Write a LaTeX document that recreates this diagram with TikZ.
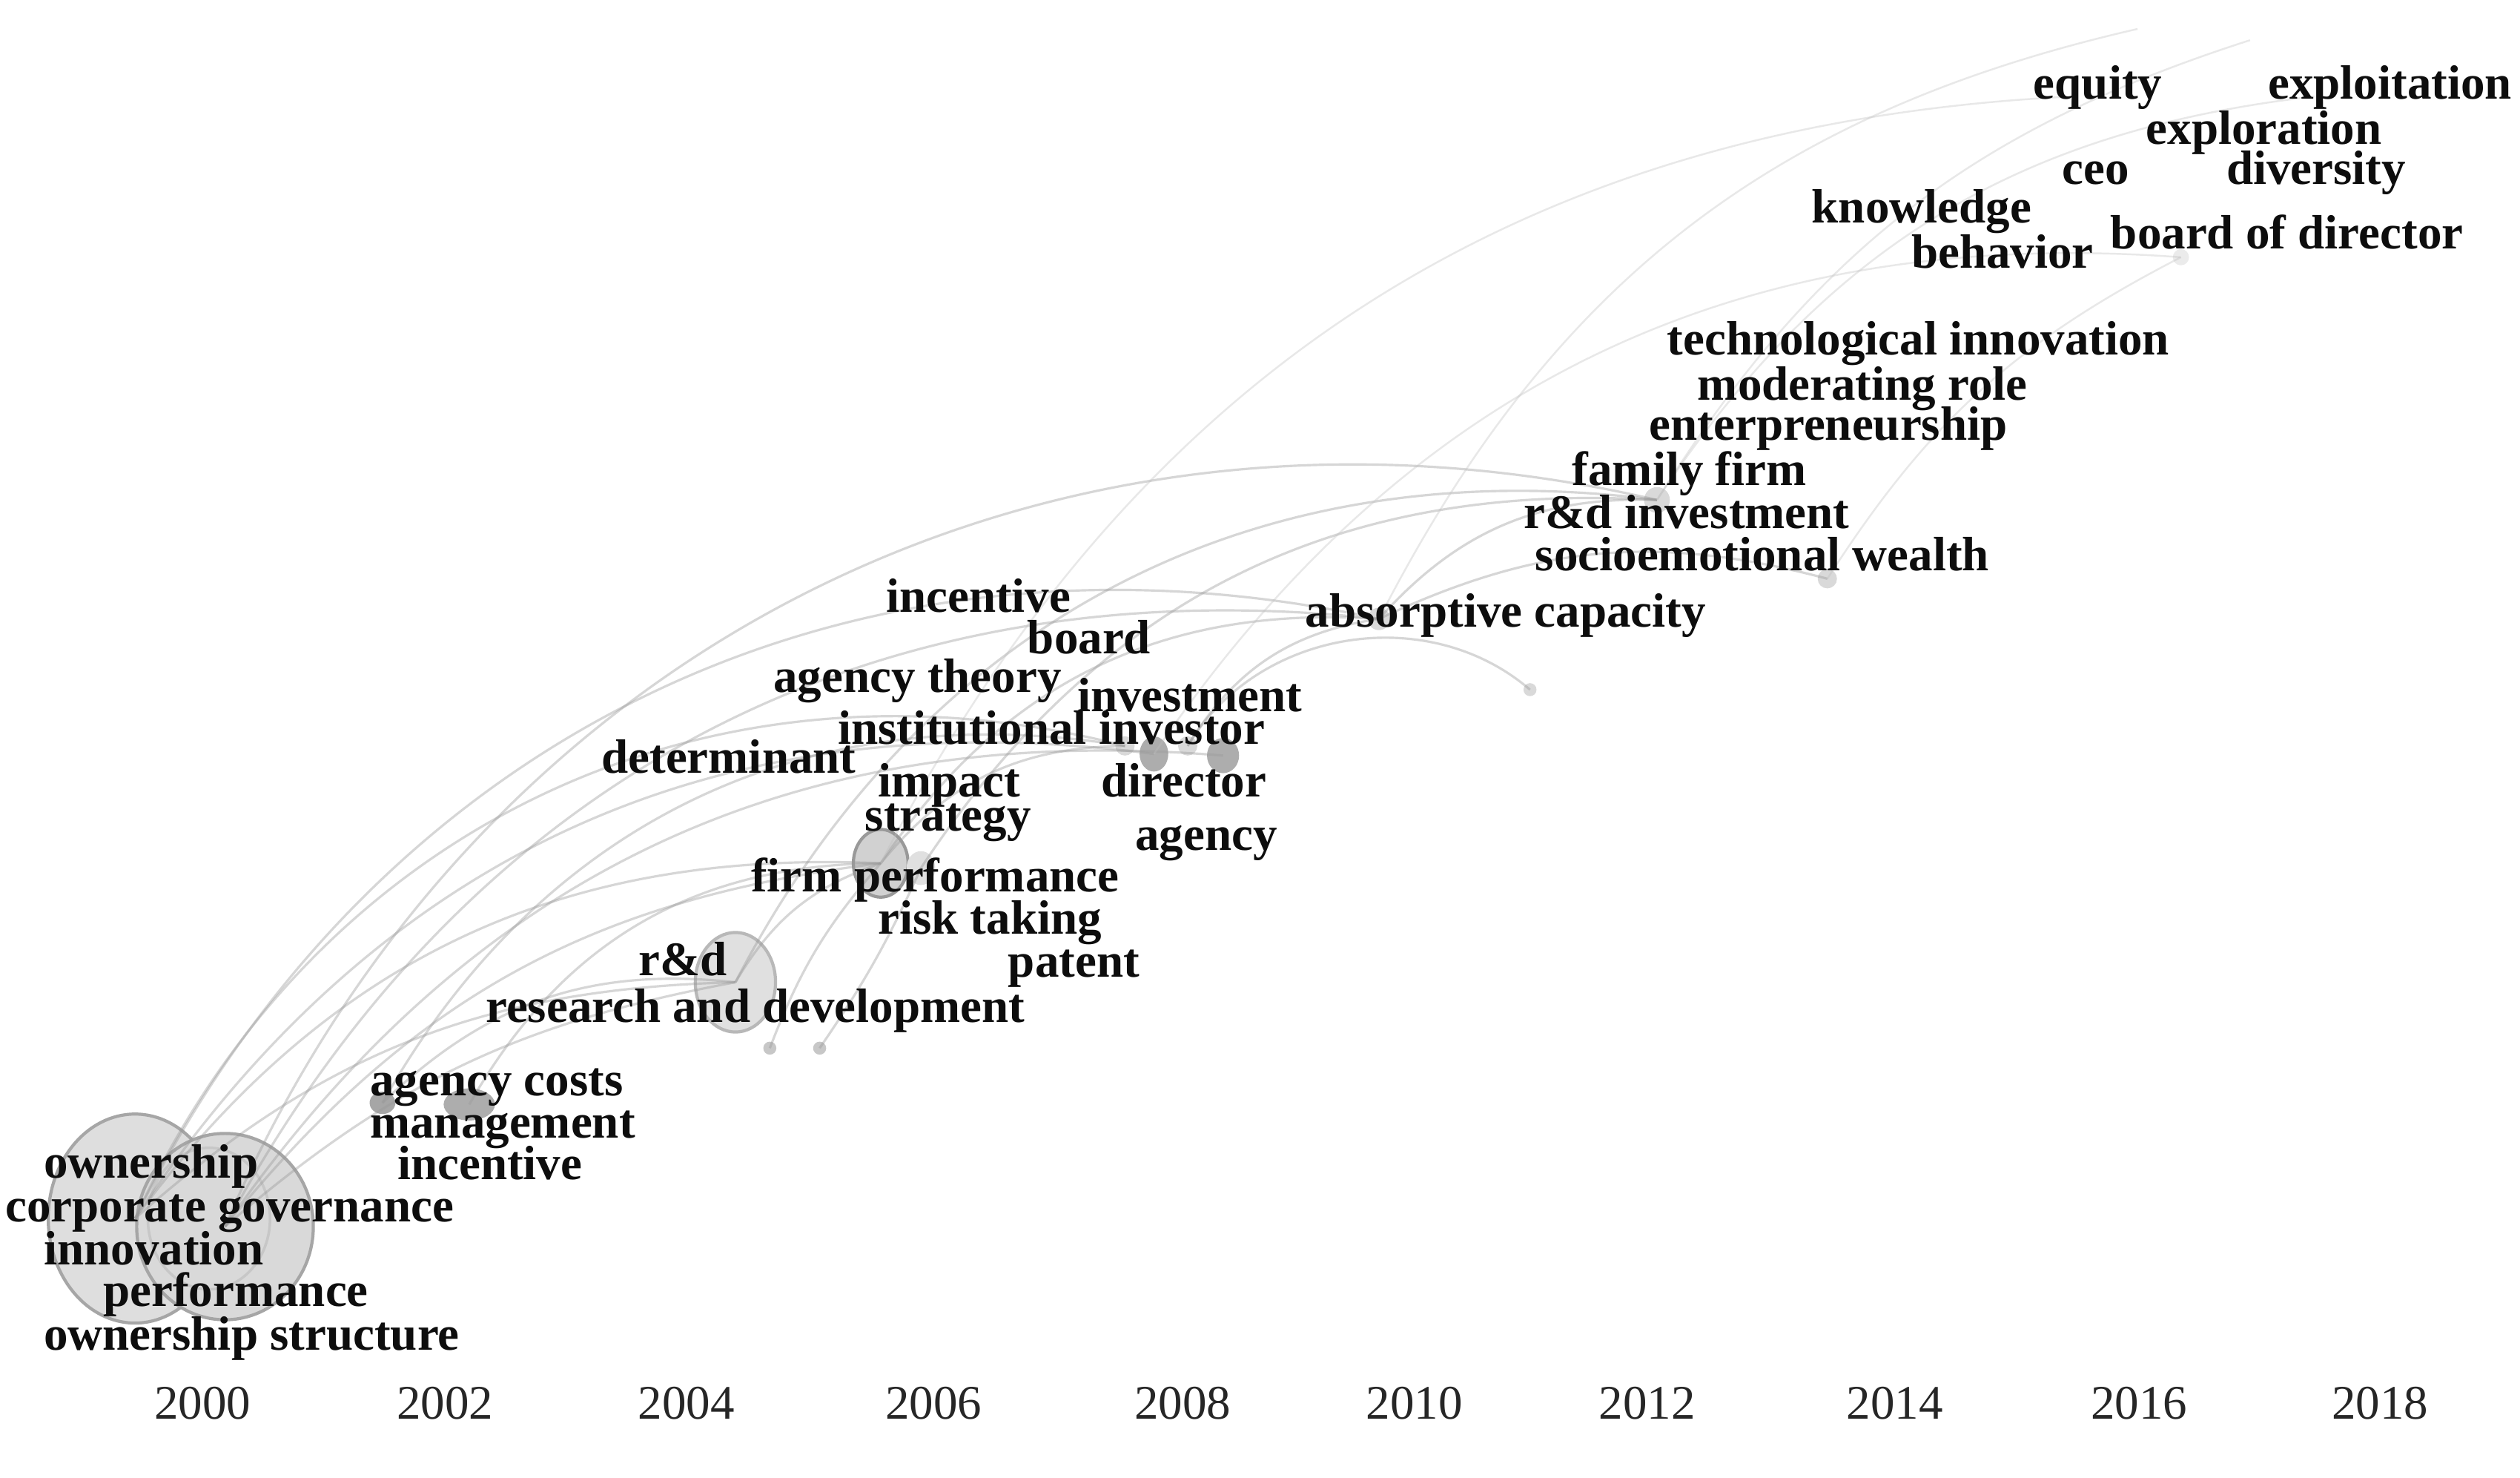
\documentclass[tikz,border=0pt]{standalone}
\usepackage{fontspec}
\setmainfont{Liberation Serif}
\usetikzlibrary{shapes.geometric}
\begin{document}
\begin{tikzpicture}[x=0.021677cm, y=-0.021677cm,
  kw/.style={font=\fontsize{18.5}{20}\selectfont\bfseries, anchor=west, inner sep=0pt, text height=12.6pt, text depth=4.1pt, text=black!95, yshift=-1.8pt},
  yr/.style={font=\fontsize{18.5}{20}\selectfont, text=black!85, inner sep=0pt},
  bub/.style={ellipse, draw=black!35, fill=black!13, inner sep=0pt, line width=1.2pt},
  dot/.style={ellipse, fill=black!22, inner sep=0pt},
  link/.style={draw=black!40, line width=0.9pt, opacity=0.4},
  flink/.style={draw=black!25, line width=0.7pt, opacity=0.35},
]
\useasboundingbox (0,0) rectangle (1568,919);
\fill[white] (0,0) rectangle (1568,919);

% ---------- bubbles (keyword nodes) ----------
\node[bub, minimum width=66.6pt, minimum height=80.2pt] (e1) at (84,758) {};
\node[bub, fill=black!15, minimum width=67.8pt, minimum height=71.5pt] (e2) at (140,763) {};
\node[ellipse, draw=black!22, line width=1pt, inner sep=0pt, minimum width=46.9pt, minimum height=54.3pt] (e2in) at (130,758) {};
\node[dot, fill=black!35, minimum width=9.9pt, minimum height=8.6pt] (ac) at (238,686) {};
\node[dot, fill=black!32, minimum width=19.7pt, minimum height=12.3pt] (mg) at (292,687) {};
\node[bub, fill=black!12, draw=black!28, minimum width=30.8pt, minimum height=38.2pt] (rd) at (457.6,611) {};
\node[dot, minimum width=5pt, minimum height=5pt] (rda) at (479,652) {};
\node[dot, minimum width=5pt, minimum height=5pt] (rdb) at (510,652) {};
\node[bub, draw=black!40, fill=black!18, minimum width=21pt, minimum height=26pt] (fp) at (548,537) {};
\node[dot, fill=black!12, minimum width=11pt, minimum height=13pt] (fp2) at (573,540) {};
\node[dot, fill=black!15, minimum width=7.4pt, minimum height=7.4pt] (ii1) at (700,464) {};
\node[dot, fill=black!32, minimum width=11pt, minimum height=13.5pt] (ii2) at (718,469) {};
\node[dot, fill=black!15, minimum width=7.4pt, minimum height=7.4pt] (ii3) at (739,464) {};
\node[dot, fill=black!32, minimum width=12.3pt, minimum height=13.5pt] (ii4) at (761,470) {};
\node[dot, fill=black!15, minimum width=8.6pt, minimum height=8.6pt] (abs) at (858,385) {};
\node[dot, fill=black!15, minimum width=5pt, minimum height=5pt] (cx) at (952,429) {};
\node[dot, fill=black!15, minimum width=9.9pt, minimum height=9.9pt] (rdi) at (1031,311) {};
\node[dot, fill=black!15, minimum width=7.4pt, minimum height=7.4pt] (sew) at (1137,360) {};
\node[dot, fill=black!8, minimum width=6.2pt, minimum height=6.2pt] (bod) at (1357,160) {};
\coordinate (eq) at (1290,60);
\coordinate (top) at (1330,18);
\coordinate (top2) at (1400,25);
\coordinate (ex) at (1440,60);

% ---------- links ----------
\draw[link] (e1.center) to[bend left=28] (fp.center);
\draw[link] (e2.center) to[bend left=22] (fp.center);
\draw[link] (e1.center) to[bend left=32] (ii2.center);
\draw[link] (e2.center) to[bend left=30] (ii4.center);
\draw[link] (e1.center) to[bend left=38] (abs.center);
\draw[link] (e2.center) to[bend left=34] (abs.center);
\draw[link] (e1.center) to[bend left=20] (rd.center);
\draw[link] (e2.center) to[bend left=15] (rd.center);
\draw[link] (e2.center) to[bend left=40] (rdi.center);
\draw[link] (e1.center) to[bend left=40] (ii1.center);
\draw[link] (ac.center) to[bend left=25] (rd.center);
\draw[link] (mg.center) to[bend left=30] (fp.center);
\draw[link] (ac.center) to[bend left=35] (ii1.center);
\draw[link] (rd.center) to[bend left=20] (fp.center);
\draw[link] (rdb.center) to[bend right=5] (fp2.center);
\draw[link] (rda.center) to[bend left=10] (fp.center);
\draw[link] (fp.center) to[bend left=25] (ii1.center);
\draw[link] (fp.center) to[bend left=30] (abs.center);
\draw[link] (fp2.center) to[bend left=30] (rdi.center);
\draw[link] (ii3.center) to[bend left=25] (abs.center);
\draw[link] (ii3.center) to[bend left=50] (cx.center);
\draw[link] (abs.center) to[bend left=25] (rdi.center);
\draw[link] (abs.center) to[bend left=20] (sew.center);
\draw[link] (rd.center) to[bend left=35] (rdi.center);
\draw[flink] (ii2.center) to[bend left=30] (bod.center);
\draw[flink] (fp.center) to[bend left=30] (eq);
\draw[flink] (abs.center) to[bend left=25] (top);
\draw[flink] (rdi.center) to[bend left=20] (top2);
\draw[flink] (sew.center) to[bend left=15] (bod.center);
\draw[flink] (rdi.center) to[bend left=25] (ex);

% ---------- keyword labels ----------
\node[kw] (k1) at (1265,52) {equity};
\node[kw] (k2) at (1411,52) {exploitation};
\node[kw] (k3) at (1335,80) {exploration};
\node[kw] (k4) at (1283,105) {ceo};
\node[kw] (k5) at (1385,105) {diversity};
\node[kw] (k6) at (1127,129) {knowledge};
\node[kw] (k7) at (1189,157) {behavior};
\node[kw] (k8) at (1313,145) {board of director};
\node[kw] (k9) at (1037,211) {technological innovation};
\node[kw] (k10) at (1056,239) {moderating role};
\node[kw] (k11) at (1026,264) {enterpreneurship};
\node[kw] (k12) at (978,292) {family firm};
\node[kw] (k13) at (948,319) {r\&d investment};
\node[kw] (k14) at (955,345) {socioemotional wealth};
\node[kw] (k15) at (812,380) {absorptive capacity};
\node[kw] (k16) at (551,371) {incentive};
\node[kw] (k17) at (639,397) {board};
\node[kw] (k18) at (481,421) {agency theory};
\node[kw] (k19) at (670,433) {investment};
\node[kw] (k20) at (521,453) {institutional investor};
\node[kw] (k21) at (374,471) {determinant};
\node[kw] (k22) at (546,486) {impact};
\node[kw] (k23) at (685,486) {director};
\node[kw] (k24) at (538,507) {strategy};
\node[kw] (k25) at (706,519) {agency};
\node[kw] (k26) at (467,545) {firm performance};
\node[kw] (k27) at (546,571) {risk taking};
\node[kw] (k28) at (627,598) {patent};
\node[kw] (k29) at (397,597) {r\&d};
\node[kw] (k30) at (302,626) {research and development};
\node[kw] (k31) at (230,672) {agency costs};
\node[kw] (k32) at (230,698) {management};
\node[kw] (k33) at (247,724) {incentive};
\node[kw] (k34) at (27,723) {ownership};
\node[kw] (k35) at (3,750) {corporate governance};
\node[kw] (k36) at (27,777) {innovation};
\node[kw] (k37) at (64,803) {performance};
\node[kw] (k38) at (27,830) {ownership structure};

% ---------- time axis ----------
\node[yr] (y2000) at (126,873) {2000};
\node[yr] (y2002) at (277,873) {2002};
\node[yr] (y2004) at (427,873) {2004};
\node[yr] (y2006) at (581,873) {2006};
\node[yr] (y2008) at (736,873) {2008};
\node[yr] (y2010) at (880,873) {2010};
\node[yr] (y2012) at (1025,873) {2012};
\node[yr] (y2014) at (1179,873) {2014};
\node[yr] (y2016) at (1331,873) {2016};
\node[yr] (y2018) at (1481,873) {2018};
\end{tikzpicture}
\end{document}
